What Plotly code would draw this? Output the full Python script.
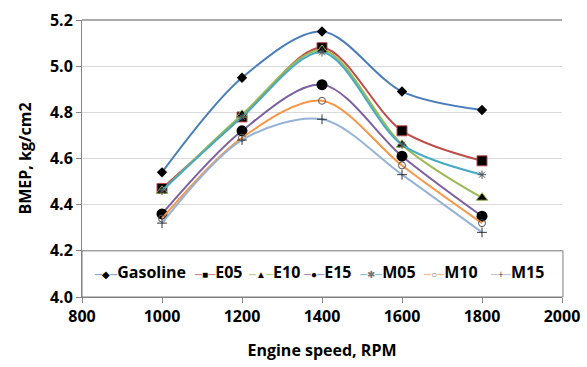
import plotly.graph_objects as go

rpm = [1000, 1200, 1400, 1600, 1800]
gasoline = [4.54, 4.95, 5.15, 4.89, 4.81]
e05 = [4.47, 4.78, 5.08, 4.72, 4.59]
e10 = [4.46, 4.79, 5.07, 4.66, 4.43]
e15 = [4.36, 4.72, 4.92, 4.61, 4.35]
m05 = [4.46, 4.78, 5.06, 4.66, 4.53]
m10 = [4.34, 4.69, 4.85, 4.57, 4.32]
m15 = [4.32, 4.68, 4.77, 4.53, 4.28]

names = ["Gasoline", "E05", "E10", "E15", "M05", "M10", "M15"]
series = [gasoline, e05, e10, e15, m05, m10, m15]
x_ticks = [800, 1000, 1200, 1400, 1600, 1800, 2000]
y_ticks = [4.0, 4.2, 4.4, 4.6, 4.8, 5.0, 5.2]

line_colors = ["#4A7EBB", "#BE4B48", "#98B954", "#7D60A0", "#46AAC5", "#F79646", "#95B3D7"]
markers = [
    dict(symbol="diamond", size=8, color="black"),
    dict(symbol="square", size=10, color="black", line=dict(color="#BE4B48", width=1)),
    dict(symbol="triangle-up", size=10, color="black", line=dict(color="#98B954", width=1)),
    dict(symbol="circle", size=11, color="black"),
    dict(symbol="asterisk-open", size=7, color="#555555", line=dict(color="#555555", width=1)),
    dict(symbol="circle-open", size=7, color="#555555", line=dict(color="#555555", width=1)),
    dict(symbol="cross-thin-open", size=7, color="#333333", line=dict(color="#333333", width=1)),
]
legend_glyphs = ["◆", "■", "▲", "●", "✱", "○", "+"]
glyph_colors = ["black", "black", "black", "black", "#777777", "#777777", "#444444"]

FONT = "Open Sans"

fig = go.Figure()
for name, vals, lc, mk in zip(names, series, line_colors, markers):
    fig.add_trace(go.Scatter(
        x=rpm, y=vals, name=name, mode="lines+markers",
        line=dict(color=lc, width=2, shape="spline", smoothing=0.9),
        marker=mk, showlegend=False,
    ))

# legend box inside the plot area
fig.add_shape(type="rect", xref="paper", yref="paper", x0=0, x1=1.002,
              y0=0, y1=(4.2 - 4.0) / 1.2, line=dict(color="#7F7F7F", width=1),
              fillcolor="rgba(0,0,0,0)", layer="above")
# darker top border
fig.add_shape(type="line", xref="paper", yref="paper", x0=0, x1=1, y0=1, y1=1,
              line=dict(color="#8C8C8C", width=1.5), layer="above")

# custom legend (text annotations)
leg_x_px = [92, 192, 246, 301, 357, 421, 488]
for name, lc, g, gc, px in zip(names, line_colors, legend_glyphs, glyph_colors, leg_x_px):
    txt = (f"<span style='color:{lc};font-size:10px'>─</span>"
           f"<span style='color:{gc};font-size:10px'>{g}</span>"
           f"<span style='color:{lc};font-size:10px'>─</span>"
           f"<b>{name}</b>")
    fig.add_annotation(x=(px - 82) / 480, y=(297 - 272) / 277, xref="paper", yref="paper",
                       xanchor="left", yanchor="middle", showarrow=False, text=txt,
                       font=dict(family=FONT, size=16, color="black"))

fig.update_layout(
    width=587, height=367,
    margin=dict(l=82, r=25, t=20, b=70),
    paper_bgcolor="white", plot_bgcolor="white",
    font=dict(family=FONT, size=16, color="black"),
    showlegend=False,
)
fig.update_xaxes(
    range=[800, 2000], tickvals=x_ticks, ticktext=[str(v) for v in x_ticks],
    showgrid=False, zeroline=False, showline=True, linecolor="#868686", linewidth=1,
    ticks="outside", ticklen=5, tickcolor="#868686",
    tickfont=dict(family=FONT, size=16, color="black", weight="bold"),
    title=dict(text="Engine speed, RPM", font=dict(family=FONT, size=16, weight="bold"), standoff=18),
    automargin=False,
)
fig.update_yaxes(
    range=[4.0, 5.2], tickvals=y_ticks, ticktext=[f"{v:.1f}" for v in y_ticks],
    showgrid=True, gridcolor="#D9D9D9", gridwidth=1, zeroline=False,
    showline=True, linecolor="#868686", linewidth=1,
    ticks="outside", ticklen=5, tickcolor="#868686",
    tickfont=dict(family=FONT, size=16, color="black", weight="bold"),
    title=dict(text="BMEP, kg/cm2", font=dict(family=FONT, size=16, weight="bold"), standoff=14),
    automargin=False,
)

fig.write_html("out.html")
